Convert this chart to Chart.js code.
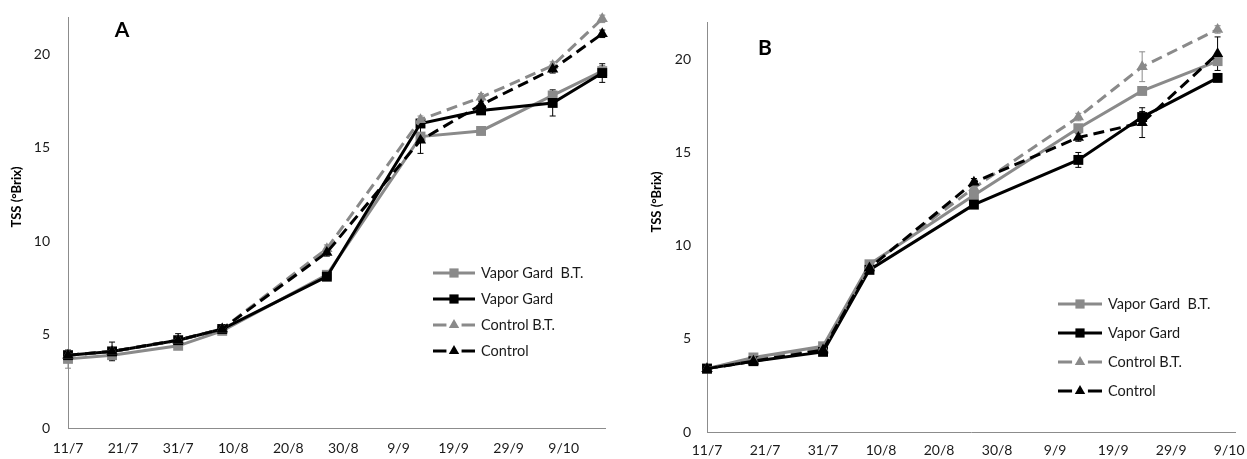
<!DOCTYPE html>
<html>
<head>
<meta charset="utf-8">
<script src="https://cdn.jsdelivr.net/npm/chart.js@4.4.1/dist/chart.umd.min.js"></script>
<style>
  body { margin: 0; background: #fff; }
  .panel { position: absolute; top: 0; }
  #panelA { left: 0; }
  #panelB { left: 620px; }
</style>
</head>
<body>
<div class="panel" id="panelA"><canvas id="chartA" width="620" height="459"></canvas></div>
<div class="panel" id="panelB"><canvas id="chartB" width="627" height="459"></canvas></div>
<script>
const tickLabels = ['11/7', '21/7', '31/7', '10/8', '20/8', '30/8', '9/9', '19/9', '29/9', '9/10'];
const seriesNames = ['Vapor Gard  B.T.', 'Vapor Gard', 'Control B.T.', 'Control'];

// panel A, sampling days counted from 11/7
const daysA = [0, 8, 20, 28, 47, 64, 75, 88, 97];
const vgBtA = [3.7, 3.9, 4.4, 5.2, 8.2, 15.6, 15.9, 17.8, 19.1];
const vgA = [3.9, 4.1, 4.7, 5.3, 8.1, 16.3, 17.0, 17.4, 19.0];
const ctrlBtA = [3.9, 4.1, 4.7, 5.3, 9.6, 16.5, 17.7, 19.4, 21.9];
const ctrlA = [3.9, 4.1, 4.7, 5.3, 9.4, 15.4, 17.3, 19.2, 21.1];
const vgBtErrA = [0.5, 0.2, 0.2, 0.1, 0.2, 0.2, 0.2, 0.2, 0.3];
const vgErrA = [0.2, 0.2, 0.2, 0.1, 0.2, 0.2, 0.2, 0.7, 0.5];
const ctrlBtErrA = [0.2, 0.2, 0.2, 0.1, 0.2, 0.2, 0.2, 0.2, 0.2];
const ctrlErrA = [0.2, 0.5, 0.35, 0.1, 0.2, 0.7, 0.2, 0.2, 0.2];

// panel B
const daysB = [0, 8, 20, 28, 46, 64, 75, 88];
const vgBtB = [3.4, 4.0, 4.6, 9.0, 12.7, 16.3, 18.3, 19.9];
const vgB = [3.4, 3.8, 4.3, 8.7, 12.2, 14.6, 16.9, 19.0];
const ctrlBtB = [3.4, 3.9, 4.5, 8.9, 13.1, 16.9, 19.6, 21.6];
const ctrlB = [3.4, 3.8, 4.4, 8.8, 13.4, 15.8, 16.6, 20.3];
const vgBtErrB = [0.1, 0.1, 0.1, 0.2, 0.2, 0.2, 0.2, 0.2];
const vgErrB = [0.1, 0.1, 0.1, 0.2, 0.2, 0.4, 0.3, 0.2];
const ctrlBtErrB = [0.1, 0.1, 0.1, 0.2, 0.2, 0.2, 0.8, 0.2];
const ctrlErrB = [0.1, 0.1, 0.1, 0.2, 0.2, 0.2, 0.8, 0.9];

const GREY = '#8a8a8a';
const styles = [
  { color: GREY, dash: [], point: 'rect', radius: 7 },
  { color: '#000', dash: [], point: 'rect', radius: 7 },
  { color: GREY, dash: [11, 6], point: 'triangle', radius: 6.5 },
  { color: '#000', dash: [11, 6], point: 'triangle', radius: 6.5 },
];

Chart.defaults.font.family = 'Lato';
Chart.defaults.font.size = 14;
Chart.defaults.color = '#1a1a1a';

const errorBars = {
  id: 'errorBars',
  beforeDatasetsDraw(chart) {
    const { ctx } = chart;
    const yScale = chart.scales.y;
    chart.data.datasets.forEach((ds, i) => {
      const meta = chart.getDatasetMeta(i);
      ctx.save();
      ctx.strokeStyle = ds.borderColor;
      ctx.lineWidth = 1;
      meta.data.forEach((pt, j) => {
        const e = ds.errors[j];
        if (!e) return;
        const v = ds.data[j].y;
        const top = yScale.getPixelForValue(v + e);
        const bot = yScale.getPixelForValue(v - e);
        ctx.beginPath();
        ctx.moveTo(pt.x, top);
        ctx.lineTo(pt.x, bot);
        ctx.moveTo(pt.x - 3, top);
        ctx.lineTo(pt.x + 3, top);
        ctx.moveTo(pt.x - 3, bot);
        ctx.lineTo(pt.x + 3, bot);
        ctx.stroke();
      });
      ctx.restore();
    });
  },
};

const sideLegend = {
  id: 'sideLegend',
  afterDraw(chart, args, opts) {
    const { ctx } = chart;
    chart.data.datasets.forEach((ds, i) => {
      const y = opts.y + i * opts.gap;
      const x = opts.x;
      const len = opts.len;
      ctx.save();
      ctx.strokeStyle = ds.borderColor;
      ctx.lineWidth = 3;
      ctx.beginPath();
      if (ds.borderDash.length) {
        ctx.moveTo(x, y);
        ctx.lineTo(x + len * 0.32, y);
        ctx.moveTo(x + len * 0.68, y);
        ctx.lineTo(x + len, y);
      } else {
        ctx.moveTo(x, y);
        ctx.lineTo(x + len, y);
      }
      ctx.stroke();
      ctx.fillStyle = ds.pointBackgroundColor;
      Chart.helpers.drawPoint(ctx, {
        pointStyle: ds.pointStyle, radius: ds.pointRadius - 0.5, rotation: 0, borderWidth: 0,
      }, x + len / 2, y);
      ctx.fillStyle = '#1a1a1a';
      ctx.font = '14.5px Lato';
      ctx.textBaseline = 'middle';
      ctx.fillText(ds.label, x + len + 6, y);
      ctx.restore();
    });
  },
};

const panelText = {
  id: 'panelText',
  afterDraw(chart, args, opts) {
    const { ctx } = chart;
    ctx.save();
    ctx.fillStyle = '#000';
    ctx.textAlign = 'center';
    ctx.textBaseline = 'middle';
    ctx.font = 'bold 21px Lato';
    ctx.fillText(opts.letter, opts.letterX, opts.letterY);
    ctx.font = 'bold 13px Lato';
    ctx.translate(opts.titleX, opts.titleY);
    ctx.rotate(-Math.PI / 2);
    ctx.fillText('TSS (°Brix)', 0, 0);
    ctx.restore();
  },
};

function makeChart(canvasId, days, values, errors, lay) {
  const datasets = seriesNames.map((name, i) => ({
    label: name,
    data: days.map((d, j) => ({ x: d, y: values[i][j] })),
    errors: errors[i],
    borderColor: styles[i].color,
    backgroundColor: styles[i].color,
    pointBackgroundColor: styles[i].color,
    pointBorderColor: styles[i].color,
    pointBorderWidth: 0,
    pointStyle: styles[i].point,
    pointRadius: styles[i].radius,
    borderWidth: 3,
    borderDash: styles[i].dash,
    tension: 0,
    clip: false,
    order: 4 - i,
  }));

  return new Chart(document.getElementById(canvasId), {
    type: 'line',
    data: { datasets },
    options: {
      responsive: false,
      animation: false,
      layout: { padding: { left: 0, right: lay.padRight, top: lay.padTop, bottom: 0 } },
      plugins: {
        legend: { display: false },
        tooltip: { enabled: false },
        sideLegend: lay.legend,
        panelText: lay.text,
      },
      scales: {
        x: {
          type: 'linear',
          min: 0,
          max: lay.xMax,
          grid: { display: false, drawTicks: false },
          border: { display: true, color: '#8c8c8c', width: 1 },
          afterBuildTicks: (scale) => {
            scale.ticks = tickLabels.map((_, k) => ({ value: k * 10 }));
          },
          afterFit: (scale) => {
            scale.height = lay.xHeight;
            scale.paddingLeft = 0;
            scale.paddingRight = 0;
          },
          ticks: {
            padding: lay.xPad,
            maxRotation: 0,
            autoSkip: false,
            callback: (v) => tickLabels[Math.round(v / 10)],
          },
        },
        y: {
          min: 0,
          max: 22,
          grid: { display: false, drawTicks: false },
          border: { display: true, color: '#8c8c8c', width: 1 },
          afterFit: (scale) => {
            scale.width = lay.yWidth;
            scale.paddingTop = 0;
            scale.paddingBottom = 0;
          },
          ticks: { stepSize: 5, includeBounds: false, padding: lay.yPad },
        },
      },
    },
    plugins: [errorBars, sideLegend, panelText],
  });
}

const chartA = makeChart('chartA', daysA, [vgBtA, vgA, ctrlBtA, ctrlA],
  [vgBtErrA, vgErrA, ctrlBtErrA, ctrlErrA], {
    padRight: 15, padTop: 17, xHeight: 31, yWidth: 68, xPad: 12, yPad: 18, xMax: 97.5,
    legend: { x: 433, y: 273, gap: 26, len: 42 },
    text: { letter: 'A', letterX: 122, letterY: 30, titleX: 17, titleY: 197 },
  });

const chartB = makeChart('chartB', daysB, [vgBtB, vgB, ctrlBtB, ctrlB],
  [vgBtErrB, vgErrB, ctrlBtErrB, ctrlErrB], {
    padRight: 12, padTop: 22, xHeight: 27, yWidth: 87, xPad: 10, yPad: 16, xMax: 91,
    legend: { x: 438, y: 304, gap: 29, len: 44 },
    text: { letter: 'B', letterX: 145, letterY: 48, titleX: 37, titleY: 202 },
  });
</script>
</body>
</html>
